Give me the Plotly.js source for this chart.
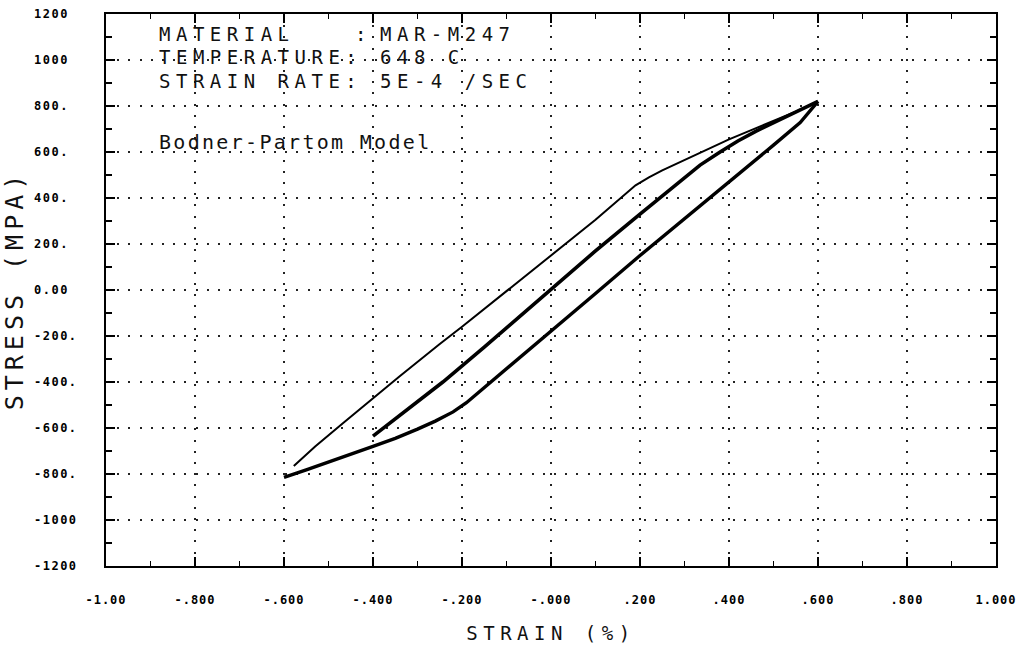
<!DOCTYPE html>
<html>
<head>
<meta charset="utf-8">
<script src="https://cdn.plot.ly/plotly-3.0.1.min.js"></script>
<style>html,body{margin:0;padding:0;background:#fff;}#chart{width:1028px;height:660px;}</style>
</head>
<body>
<div id="chart"></div>
<script>
// Outer loop, loading branch (thin line)
const upperStrain = [-0.578, -0.53, -0.467, -0.40, -0.34, -0.25, -0.20, -0.10, 0.00, 0.10, 0.19, 0.22, 0.25, 0.30, 0.35, 0.40, 0.45, 0.50, 0.55, 0.60];
const upperStress = [-765, -680, -578, -470, -375, -235, -160, -5, 150, 305, 455, 490, 520, 565, 610, 655, 695, 735, 775, 820];
// Outer loop, unloading branch (thick line)
const lowerStrain = [0.60, 0.58, 0.56, 0.50, 0.45, 0.40, 0.364, 0.30, 0.20, 0.10, 0.00, -0.10, -0.19, -0.22, -0.26, -0.30, -0.35, -0.40, -0.45, -0.50, -0.55, -0.60];
const lowerStress = [820, 775, 728, 630, 550, 470, 415, 310, 150, -15, -178, -345, -490, -530, -570, -605, -645, -680, -715, -750, -782, -815];
// Inner branch
const middleStrain = [-0.40, -0.37, -0.34, -0.30, -0.243, -0.15, -0.10, 0.00, 0.10, 0.20, 0.30, 0.335, 0.38, 0.42, 0.46, 0.50, 0.55, 0.60];
const middleStress = [-635, -590, -545, -485, -400, -248, -165, 5, 170, 330, 490, 543, 600, 648, 690, 728, 775, 820];

const xTickVals = [-1.0, -0.8, -0.6, -0.4, -0.2, 0.0, 0.2, 0.4, 0.6, 0.8, 1.0];
const xTickText = ["-1.00", "-.800", "-.600", "-.400", "-.200", "-.000", ".200", ".400", ".600", ".800", "1.000"];
const yTickVals = [1200, 1000, 800, 600, 400, 200, 0, -200, -400, -600, -800, -1000, -1200];
const yTickText = ["1200", "1000", "800.", "600.", "400.", "200.", "0.00", "-200.", "-400.", "-600.", "-800.", "-1000", "-1200"];

const headerLabels = ["MATERIAL", "TEMPERATURE:", "STRAIN RATE:"];
const headerValues = ["MAR-M247", "648 C", "5E-4 /SEC"];
const modelName = "Bodner-Partom Model";

const sp = (t, ls) => '<span style="letter-spacing:' + ls + 'px">' + t + '</span>';
const padY = t => { let s = t; while (s.length < 5) s += '\u00A0'; return s; };

const lineBase = {type: 'scatter', mode: 'lines', hoverinfo: 'skip', showlegend: false};
const data = [
  Object.assign({}, lineBase, {x: upperStrain, y: upperStress, line: {color: '#000', width: 2}}),
  Object.assign({}, lineBase, {x: lowerStrain, y: lowerStress, line: {color: '#000', width: 3.4}}),
  Object.assign({}, lineBase, {x: middleStrain, y: middleStress, line: {color: '#000', width: 3.6}})
];

const tickFont = {family: 'DejaVu Sans Mono', size: 12, color: '#000', weight: 'bold'};
const headerFont = {family: 'DejaVu Sans Mono', size: 19, color: '#111'};
const rowY = [0.9638, 0.9221, 0.8786];
const annotations = [];
headerLabels.forEach((t, i) => {
  annotations.push({xref: 'paper', yref: 'paper', x: 0.0573, y: rowY[i], xanchor: 'left', yanchor: 'middle', showarrow: false, text: sp(t, 5.5), font: headerFont});
});
annotations.push({xref: 'paper', yref: 'paper', x: 0.2775, y: rowY[0], xanchor: 'left', yanchor: 'middle', showarrow: false, text: ':', font: headerFont});
headerValues.forEach((t, i) => {
  annotations.push({xref: 'paper', yref: 'paper', x: 0.3056, y: rowY[i], xanchor: 'left', yanchor: 'middle', showarrow: false, text: sp(t, 5.5), font: headerFont});
});
annotations.push({xref: 'paper', yref: 'paper', x: 0.0573, y: 0.768, xanchor: 'left', yanchor: 'middle', showarrow: false, text: sp(modelName, 2.3), font: {family: 'DejaVu Sans Mono', size: 20, color: '#111'}});

const axisCommon = {
  showline: true, linecolor: '#000', linewidth: 2, mirror: 'ticks',
  ticks: 'inside', tickcolor: '#000', tickwidth: 2, ticklen: 9,
  showgrid: true, gridcolor: '#222', gridwidth: 2, griddash: '2px,9.2px',
  zeroline: false, tickfont: tickFont, tickmode: 'array'
};

const layout = {
  width: 1028, height: 660,
  margin: {l: 106, r: 32, t: 14, b: 94},
  paper_bgcolor: '#fff', plot_bgcolor: '#fff',
  xaxis: Object.assign({}, axisCommon, {
    range: [-1, 1], tickvals: xTickVals, ticktext: xTickText.map(t => sp(t, 1)),
    ticklabelstandoff: 22,
    minor: {ticks: 'inside', dtick: 0.1, ticklen: 5, tickwidth: 1.5, tickcolor: '#000', showgrid: false},
    title: {text: sp('STRAIN (%)', 5.5), font: {family: 'DejaVu Sans Mono', size: 19, color: '#111'}, standoff: 20}
  }),
  yaxis: Object.assign({}, axisCommon, {
    range: [-1200, 1200], tickvals: yTickVals, ticktext: yTickText.map(t => sp(padY(t), 1.5)),
    ticklabelstandoff: 24,
    minor: {ticks: 'inside', dtick: 100, ticklen: 6, tickwidth: 1.5, tickcolor: '#000', showgrid: false},
    title: {text: sp('STRESS (MPA)', 5), font: {family: 'DejaVu Sans Mono', size: 25, color: '#111'}, standoff: 4}
  }),
  annotations: annotations
};

Plotly.newPlot('chart', data, layout, {displayModeBar: false, staticPlot: true});
</script>
</body>
</html>
